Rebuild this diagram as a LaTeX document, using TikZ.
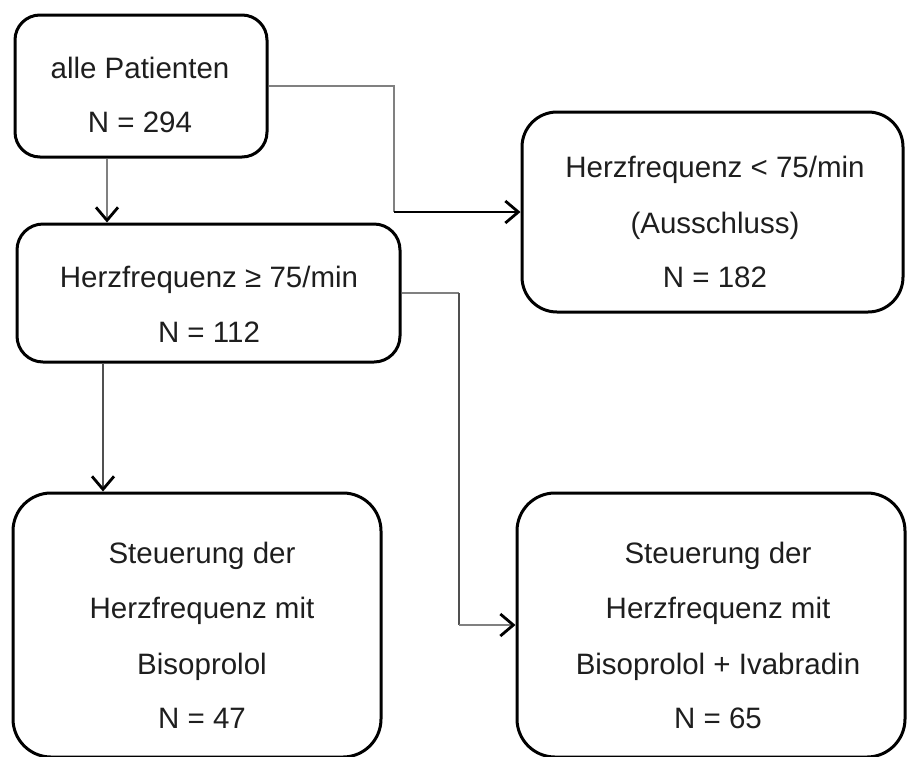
\documentclass[tikz,border=0pt]{standalone}
\usepackage{fontspec}
\setmainfont{Liberation Sans}
\usetikzlibrary{arrows.meta}
\definecolor{conn}{HTML}{808080}
\definecolor{conndark}{HTML}{505050}
\definecolor{txtc}{HTML}{1E1E1E}
\tikzset{
  box/.style={draw=black, line width=3pt, fill=none, inner sep=0pt},
  txt/.style={anchor=base, inner sep=0pt, text=txtc, font=\fontsize{29.5}{35}\selectfont},
  tip/.style={-{Straight Barb[length=13pt,width=22pt,line width=2.8pt,color=black]}},
  greyline/.style={draw=conn, line width=2.6pt},
  darkline/.style={draw=conndark, line width=1.6pt},
  blackline/.style={draw=black, line width=2.2pt}
}
\begin{document}
\begin{tikzpicture}[x=1pt,y=-1pt]
\useasboundingbox (0,0) rectangle (907,756);
\clip (0,0) rectangle (907,756);
% boxes
\node[box, rounded corners=25pt, minimum width=252pt, minimum height=142pt] (b1) at (141,86) {};
\node[box, rounded corners=35pt, minimum width=381pt, minimum height=200pt] (b2) at (712.5,212) {};
\node[box, rounded corners=26pt, minimum width=383pt, minimum height=138pt] (b3) at (208.5,293) {};
\node[box, rounded corners=38pt, minimum width=368pt, minimum height=264pt] (b4) at (197,625) {};
\node[box, rounded corners=38pt, minimum width=388pt, minimum height=264pt] (b5) at (711,625) {};
% texts
\node[txt] (t1a) at (140,78) {alle Patienten};
\node[txt] (t1b) at (140,132) {N = 294};
\node[txt] (t2a) at (715,177) {Herzfrequenz < 75/min};
\node[txt] (t2b) at (715,233) {(Ausschluss)};
\node[txt] (t2c) at (715,287) {N = 182};
\node[txt] (t3a) at (209,287) {Herzfrequenz ≥ 75/min};
\node[txt] (t3b) at (209,342) {N = 112};
\node[txt] (t4a) at (202,563) {Steuerung der};
\node[txt] (t4b) at (202,618) {Herzfrequenz mit};
\node[txt] (t4c) at (202,674) {Bisoprolol};
\node[txt] (t4d) at (202,728) {N = 47};
\node[txt] (t5a) at (718,563) {Steuerung der};
\node[txt] (t5b) at (718,618) {Herzfrequenz mit};
\node[txt] (t5c) at (718,674) {Bisoprolol + Ivabradin};
\node[txt] (t5d) at (718,728) {N = 65};
% helper coordinates for connector columns
\coordinate (x1) at (394,0);
\coordinate (x2) at (107,0);
\coordinate (x3) at (103,0);
\coordinate (x4) at (459,0);
% b1 -> b2
\draw[greyline] (b1.east) -- (b1.east -| x1) -- (b2.west -| x1);
\draw[blackline, tip] (b2.west -| x1) -- (b2.west);
% b1 -> b3
\draw[greyline, tip] (b1.south -| x2) -- (b3.north -| x2);
% b3 -> b4
\draw[darkline, tip] (b3.south -| x3) -- (b4.north -| x3);
% b3 -> b5
\draw[greyline] (b3.east) -- (b3.east -| x4);
\draw[darkline] (b3.east -| x4) -- (b5.west -| x4);
\draw[greyline, tip] (b5.west -| x4) -- (b5.west);
\end{tikzpicture}
\end{document}
